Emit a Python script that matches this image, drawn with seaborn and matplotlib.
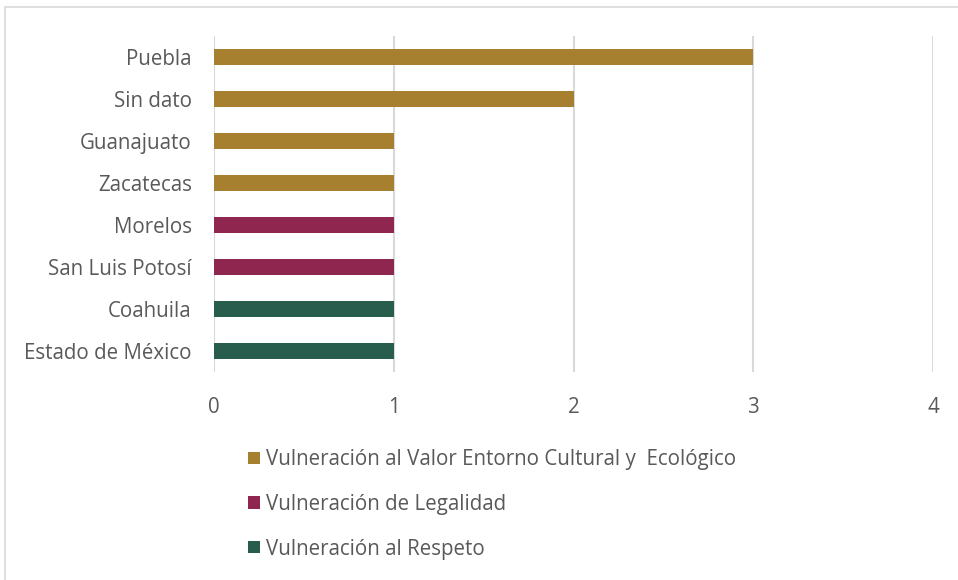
import pandas as pd
import matplotlib
matplotlib.use("Agg")
import matplotlib.pyplot as plt
from matplotlib.lines import Line2D
from matplotlib.patches import Patch
import seaborn as sns

# Datos
estados = ["Puebla", "Sin dato", "Guanajuato", "Zacatecas", "Morelos",
           "San Luis Potosí", "Coahuila", "Estado de México"]
valores = [3, 2, 1, 1, 1, 1, 1, 1]
categorias = ["Vulneración al Valor Entorno Cultural y  Ecológico"] * 4 \
    + ["Vulneración de Legalidad"] * 2 \
    + ["Vulneración al Respeto"] * 2
orden_categorias = ["Vulneración al Valor Entorno Cultural y  Ecológico",
                    "Vulneración de Legalidad",
                    "Vulneración al Respeto"]
colores = ["#A6802E", "#8F2650", "#285C4D"]
ticks_x = [0, 1, 2, 3, 4]

df = pd.DataFrame({"estado": estados, "valor": valores, "categoria": categorias})

sns.set_theme(style="white")
plt.rcParams["font.family"] = ["Open Sans", "DejaVu Sans"]

fig = plt.figure(figsize=(9.58, 5.8), dpi=100)
ax = fig.add_axes([214 / 958, 1 - 372 / 580, (933 - 214) / 958, (372 - 36) / 580])

sns.barplot(data=df, x="valor", y="estado", hue="categoria", order=estados,
            hue_order=orden_categorias, palette=colores, dodge=False,
            width=0.4, ax=ax, legend=False, linewidth=0, saturation=1)

ax.set_xlim(0, 4)
ax.set_xticks(ticks_x)
ax.grid(axis="x", color="#D9D9D9", linewidth=1.5)
ax.set_axisbelow(True)
for s in ax.spines.values():
    s.set_visible(False)
ax.set_xlabel("")
ax.set_ylabel("")
ax.tick_params(axis="x", length=0, pad=18, labelsize=14.8, labelcolor="#595959")
ax.tick_params(axis="y", length=0, pad=16, labelsize=14.8, labelcolor="#595959")

# marco del area del grafico
fig.add_artist(Line2D([5 / 958, 5 / 958], [0, 1 - 7 / 580], color="#D9D9D9",
                      linewidth=1.2, transform=fig.transFigure))
fig.add_artist(Line2D([5 / 958, 1], [1 - 7 / 580, 1 - 7 / 580], color="#D9D9D9",
                      linewidth=1.2, transform=fig.transFigure))

handles = [Patch(facecolor=c, edgecolor="none") for c in colores]
fig.legend(handles, orden_categorias, loc="upper left",
           bbox_to_anchor=(240 / 958, 1 - 441 / 580), frameon=False,
           fontsize=14.8, labelcolor="#595959", handlelength=0.55,
           handleheight=0.55, handletextpad=0.3, labelspacing=1.15,
           borderaxespad=0)

fig.savefig("out.png", dpi=100)
